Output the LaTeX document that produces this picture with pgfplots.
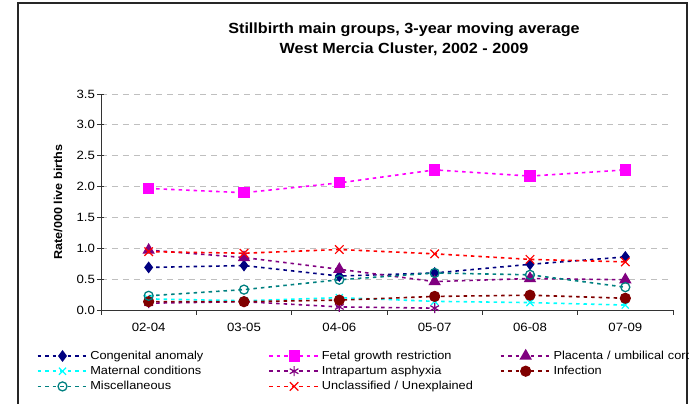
\documentclass[border=0pt]{standalone}
\usepackage{pgfplots}
\pgfplotsset{compat=1.18}
\usepackage{fontspec}
\setmainfont[FakeStretch=1.1]{Liberation Sans}
\definecolor{cnavy}{RGB}{0,0,128}
\definecolor{cmag}{RGB}{255,0,255}
\definecolor{cpurp}{RGB}{128,0,128}
\definecolor{ccyan}{RGB}{0,255,255}
\definecolor{cdred}{RGB}{128,0,0}
\definecolor{cteal}{RGB}{0,128,128}
\definecolor{cred}{RGB}{255,0,0}
\begin{document}
\begin{tikzpicture}[x=1pt,y=1pt]
\path[use as bounding box] (0,0) rectangle (689,404);
\draw[line width=1.3pt, black!85] (18,-5) -- (18,401) -- (687,401) -- (687,-5);
\node[align=center, font=\bfseries\fontsize{14.7}{19.5}\selectfont] at (404,364.5) {Stillbirth main groups, 3-year moving average\\West Mercia Cluster, 2002 - 2009};
\begin{axis}[
  scale only axis,
  width=572pt, height=216pt,
  at={(101pt,94pt)}, anchor=south west,
  xmin=-0.5, xmax=5.5, ymin=0, ymax=3.5,
  axis lines=left, axis line style={-, black!80, line width=0.8pt},
  xtick={0,...,5},
  xticklabels={02-04,03-05,04-06,05-07,06-08,07-09},
  minor xtick={-0.5,0.5,...,5.5},
  major x tick style={draw=none},
  minor x tick style={black!80, line width=0.8pt},
  minor tick length=5pt,
  tick align=outside,
  ytick={0,0.5,...,3.5},
  ytick align=center,
  major tick length=7pt,
  y tick style={black!80, line width=0.8pt},
  ymajorgrids,
  major grid style={gray!50, dash pattern=on 6pt off 5pt, line width=0.8pt},
  yticklabel style={xshift=1pt, /pgf/number format/.cd, fixed, fixed zerofill, precision=1, assume math mode=true},
  /pgf/number format/assume math mode=true,
  tick label style={font=\fontsize{12}{14}\selectfont},
  xticklabel style={yshift=-3pt},
  ylabel={\textbf{Rate/000 live births}},
  ylabel style={font=\fontsize{11.5}{13}\selectfont, at={(axis description cs:-0.075,0.5)}, anchor=center},
  legend columns=3,
  legend cell align=left,
  legend style={at={(-0.118,-0.175)}, anchor=north west, draw=none, fill=none,
    font=\fontsize{11.6}{13}\selectfont, row sep=3.4pt,
    nodes={inner ysep=0pt, text height=9pt, text depth=2.8pt},
    /tikz/every even column/.append style={text width=176pt, inner xsep=1pt},
    /tikz/every odd column/.append style={inner xsep=1.5pt}},
  legend image code/.code={\draw[mark repeat=2, mark phase=2, #1] plot coordinates {(0pt,0pt) (25pt,0pt) (50pt,0pt)};},
  every axis plot/.append style={line width=1.6pt, dash pattern=on 3.5pt off 4pt, mark options={solid, line width=1.2pt}},
  clip=false,
]
\addplot[cnavy, mark=diamond*, mark size=5pt] coordinates {(0,0.69) (1,0.72) (2,0.55) (3,0.60) (4,0.74) (5,0.86)};
\addlegendentry{Congenital anomaly}
\addplot[cmag, mark=square*, mark size=5pt] coordinates {(0,1.97) (1,1.90) (2,2.06) (3,2.27) (4,2.17) (5,2.27)};
\addlegendentry{Fetal growth restriction}
\addplot[cpurp, mark=triangle*, mark size=6pt] coordinates {(0,0.97) (1,0.85) (2,0.66) (3,0.46) (4,0.51) (5,0.49)};
\addlegendentry{Placenta / umbilical cord}
\addplot[ccyan, mark=x, mark size=5pt] coordinates {(0,0.18) (1,0.15) (2,0.20) (3,0.14) (4,0.12) (5,0.08)};
\addlegendentry{Maternal conditions}
\addplot[cpurp, mark=asterisk, mark size=5pt] coordinates {(0,0.11) (1,0.135) (2,0.05) (3,0.03)};
\addlegendentry{Intrapartum asphyxia}
\addplot[cdred, mark=*, mark size=5pt] coordinates {(0,0.135) (1,0.135) (2,0.16) (3,0.22) (4,0.24) (5,0.19)};
\addlegendentry{Infection}
\addplot[cteal, mark=o, mark size=4.5pt, mark options={solid, fill=white, line width=1.3pt}] coordinates {(0,0.23) (1,0.33) (2,0.49) (3,0.60) (4,0.57) (5,0.37)};
\addlegendentry{Miscellaneous}
\addplot[cred, mark=x, mark size=6pt] coordinates {(0,0.945) (1,0.92) (2,0.98) (3,0.91) (4,0.82) (5,0.78)};
\addlegendentry{Unclassified / Unexplained}
\end{axis}
\end{tikzpicture}
\end{document}
